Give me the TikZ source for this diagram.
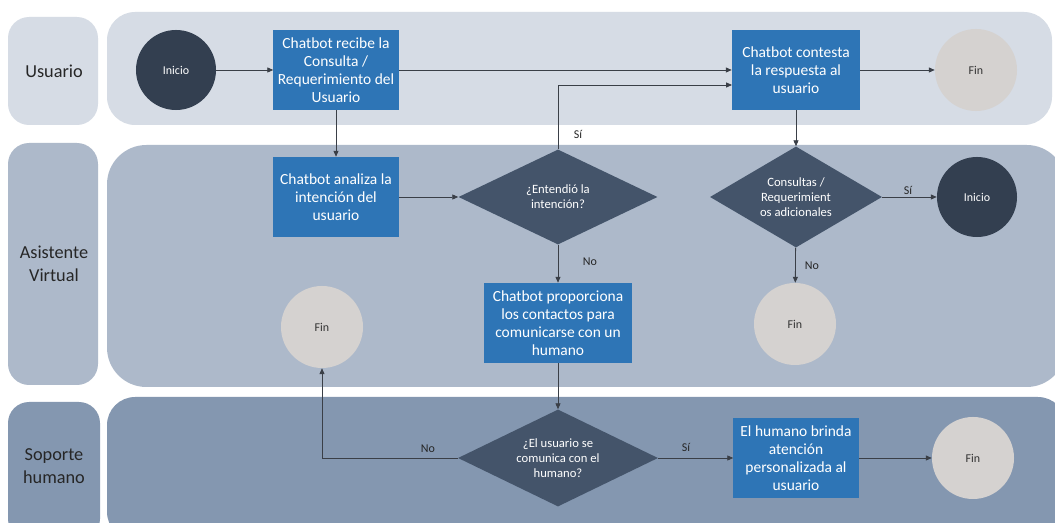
\documentclass[tikz,border=0pt]{standalone}
\usepackage{fontspec}
\setmainfont{Carlito}
\usetikzlibrary{arrows.meta,shapes.geometric}
\definecolor{laneA}{HTML}{D6DCE5}
\definecolor{laneB}{HTML}{ADB9CA}
\definecolor{laneC}{HTML}{8497B0}
\definecolor{taskblue}{HTML}{2E75B6}
\definecolor{decgray}{HTML}{44546A}
\definecolor{startnavy}{HTML}{333F50}
\definecolor{endgray}{HTML}{D5D2D0}
\definecolor{flowline}{HTML}{3A3F47}
\begin{document}
\begin{tikzpicture}[x=0.025cm,y=-0.025cm,
    lanetext/.style={text=black!85,align=center,font=\fontsize{13}{16}\selectfont},
    taskbox/.style={rectangle,fill=taskblue,text=white,align=center,inner sep=0pt,
        minimum width=3.125cm,minimum height=2cm,font=\fontsize{11}{12.8}\selectfont},
    decision/.style={diamond,aspect=2.1,fill=decgray,text=white,align=center,inner sep=0pt,
        font=\fontsize{9}{10.5}\selectfont},
    startdot/.style={circle,fill=startnavy,text=white,minimum size=2cm,inner sep=0pt,
        font=\fontsize{8.5}{10}\selectfont},
    enddot/.style={circle,fill=endgray,text=black!80,minimum size=2.05cm,inner sep=0pt,
        font=\fontsize{8.5}{10}\selectfont},
    flow/.style={draw=flowline,line width=0.6pt,-{Triangle[length=4.2pt,width=3.6pt]}},
    answer/.style={text=black!85,font=\fontsize{8.5}{10}\selectfont,inner sep=1pt}]
    \useasboundingbox (0,0) rectangle (1055,523);
    \fill[white] (0,0) rectangle (1055,523);

    % Drawing lanes
    \fill[laneA,rounded corners=15] (8,17) rectangle (98,125);%
    \fill[laneA,rounded corners=20] (107,12) rectangle (1052,125);%
    \fill[laneB,rounded corners=15] (8,143) rectangle (98,385);%
    \fill[laneB,rounded corners=28] (107,145) rectangle (1066,387);%
    \fill[laneC,rounded corners=15] (8,402) rectangle (100,540);%
    \fill[laneC,rounded corners=20] (107,397) rectangle (1066,540);%

    % Marking lane names
    \node[lanetext] (usuario) at (54,71) {Usuario};%
    \node[lanetext] (asistente) at (54,264) {Asistente\\Virtual};%
    \node[lanetext] (soporte) at (54,466) {Soporte\\humano};%

    % Marking steps of lane Usuario
    \node[startdot] (inicioA) at (176,70) {Inicio};%
    \node[taskbox] (recibe) at (336,70) {Chatbot recibe la\\Consulta /\\Requerimiento del\\Usuario};%
    \node[taskbox,minimum width=3.2cm] (contesta) at (796,70) {Chatbot contesta\\la respuesta al\\usuario};%
    \node[enddot] (finA) at (976,70) {Fin};%

    % Marking steps of lane Asistente Virtual
    \node[taskbox] (analiza) at (336,197) {Chatbot analiza la\\intención del\\usuario};%
    \node[decision,minimum width=4.975cm,minimum height=2.375cm] (entendio) at (558,197) {¿Entendió la\\intención?};%
    \node[decision,minimum width=4.3cm,minimum height=2.525cm] (adicionales) at (796,197) {Consultas /\\Requerimient\\os adicionales};%
    \node[startdot] (inicioB) at (977,197) {Inicio};%
    \node[taskbox,minimum width=3.675cm] (contactos) at (558,323) {Chatbot proporciona\\los contactos para\\comunicarse con un\\humano};%
    \node[enddot] (finB) at (322,327) {Fin};%
    \node[enddot] (finC) at (795,324) {Fin};%

    % Marking steps of lane Soporte humano
    \node[decision,minimum width=5cm,minimum height=2.425cm] (comunica) at (558,458) {¿El usuario se\\comunica con el\\humano?};%
    \node[taskbox] (brinda) at (796,458) {El humano brinda\\atención\\personalizada al\\usuario};%
    \node[enddot] (finD) at (973,458) {Fin};%

    % Drawing connectors
    \coordinate (siEntrada) at (732,85);%
    \draw[flow] (inicioA) -- (recibe);%
    \draw[flow] (recibe) -- (contesta);%
    \draw[flow] (contesta) -- (finA);%
    \draw[flow] (recibe) -- (analiza);%
    \draw[flow] (analiza) -- (entendio);%
    \draw[flow] (entendio.north) |- (siEntrada);%
    \draw[flow] (entendio) -- (contactos);%
    \draw[flow] (contesta) -- (adicionales);%
    \draw[flow] (adicionales) -- (inicioB);%
    \draw[flow] (adicionales) -- (finC);%
    \draw[flow] (contactos) -- (comunica);%
    \draw[flow] (comunica.west) -| (finB.south);%
    \draw[flow] (comunica) -- (brinda);%
    \draw[flow] (brinda) -- (finD);%

    % Marking answers
    \node[answer] (siA) at (578,134) {Sí};%
    \node[answer] (noA) at (590,262) {No};%
    \node[answer] (siB) at (908,190) {Sí};%
    \node[answer] (noB) at (812,266) {No};%
    \node[answer] (noC) at (428,449) {No};%
    \node[answer] (siC) at (686,447) {Sí};%
\end{tikzpicture}
\end{document}
